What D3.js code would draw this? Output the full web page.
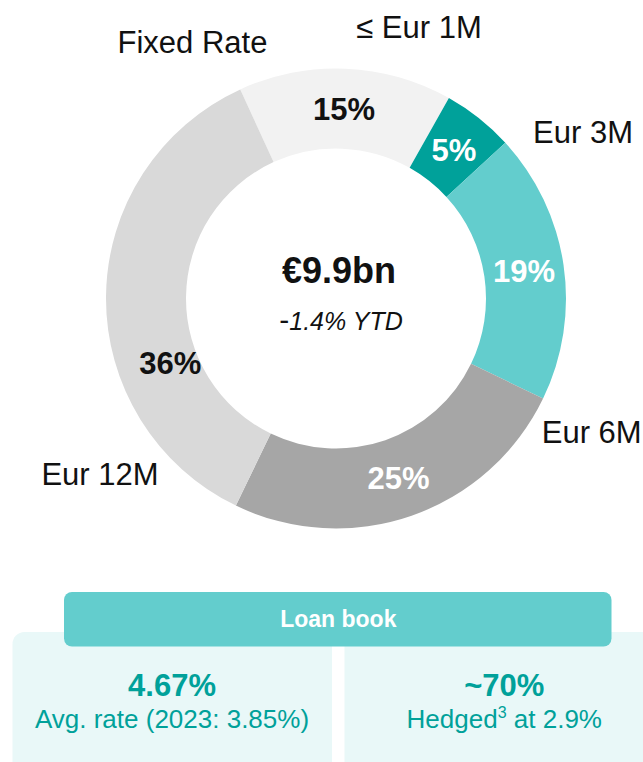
<!DOCTYPE html>
<html>
<head>
<meta charset="utf-8">
<script src="https://cdn.jsdelivr.net/npm/d3@7"></script>
<style>
  html, body { margin: 0; padding: 0; background: #ffffff; }
  svg { display: block; font-family: "Liberation Sans", Arial, sans-serif; }
</style>
</head>
<body>
<svg id="chart" width="643" height="762"></svg>
<script>
// Loan book split by interest-rate reference
const categories = ["Fixed Rate", "≤ Eur 1M", "Eur 3M", "Eur 6M", "Eur 12M"];
const shares = [15, 5, 19, 25, 36];
const totalLabel = "€9.9bn";
const changeSign = "-";
const changeLabel = "1.4% YTD";
const panelHeader = "Loan book";
const panelValues = ["4.67%", "~70%"];
const panelNotes = ["Avg. rate (2023: 3.85%)", "Hedged|3| at 2.9%"];

// Styling
const sliceColors = ["#f2f2f2", "#00a19a", "#63cdcd", "#a6a6a6", "#d9d9d9"];
const valueColors = ["#111111", "#ffffff", "#ffffff", "#ffffff", "#111111"];
const teal = "#00a19a";

const svg = d3.select("#chart");
const cx = 336, cy = 298.5;
const outerR = 230, innerR = 150;
const deg = Math.PI / 180;
const start = -24.6 * deg;

const pie = d3.pie().sort(null).value(d => d.v)
  .startAngle(start).endAngle(start + 2 * Math.PI);
const data = categories.map((c, i) => ({ c, v: shares[i], i }));
const arcs = pie(data);

const arc = d3.arc().innerRadius(innerR).outerRadius(outerR);

const g = svg.append("g").attr("transform", `translate(${cx},${cy})`);

g.selectAll("path.slice")
  .data(arcs)
  .join("path")
  .attr("class", "slice")
  .attr("d", arc)
  .attr("fill", d => sliceColors[d.data.i]);

// Value labels sit on the ring's mid radius; the large left slice is nudged down
const labelShift = { "Eur 12M": { a: -22 * deg, r: 178 } };
g.selectAll("text.value")
  .data(arcs)
  .join("text")
  .attr("class", "value")
  .attr("text-anchor", "middle")
  .attr("font-weight", "bold")
  .attr("font-size", 31)
  .attr("fill", d => valueColors[d.data.i])
  .attr("x", d => {
    const s = labelShift[d.data.c] || { a: 0, r: (innerR + outerR) / 2 };
    const a = (d.startAngle + d.endAngle) / 2 + s.a;
    return s.r * Math.sin(a);
  })
  .attr("y", d => {
    const s = labelShift[d.data.c] || { a: 0, r: (innerR + outerR) / 2 };
    const a = (d.startAngle + d.endAngle) / 2 + s.a;
    return -s.r * Math.cos(a) + 11;
  })
  .text(d => d.data.v + "%");

// Category callouts around the ring (offsets from the ring centre)
const calloutPos = {
  "Fixed Rate": [-143.5, -245.5],
  "≤ Eur 1M": [83, -260.5],
  "Eur 3M": [247, -155.5],
  "Eur 6M": [255.7, 144.2],
  "Eur 12M": [-236, 186.5]
};
g.selectAll("text.callout")
  .data(arcs)
  .join("text")
  .attr("class", "callout")
  .attr("text-anchor", "middle")
  .attr("font-size", 31)
  .attr("fill", "#111111")
  .attr("x", d => calloutPos[d.data.c][0])
  .attr("y", d => calloutPos[d.data.c][1])
  .text(d => d.data.c);

// Centre totals
g.append("text")
  .attr("text-anchor", "middle")
  .attr("x", 3).attr("y", -16)
  .attr("font-weight", "bold")
  .attr("font-size", 36)
  .attr("fill", "#111111")
  .text(totalLabel);
const change = g.append("text")
  .attr("text-anchor", "middle")
  .attr("x", 5).attr("y", 31)
  .attr("font-size", 25)
  .attr("fill", "#111111");
change.append("tspan").attr("font-size", 30).text(changeSign);
change.append("tspan").attr("font-style", "italic").text(changeLabel);

// Loan book panels
const panelX = [12.5, 344.5];
const panelW = 319.5;
const panelG = svg.append("g");
panelX.forEach((x, i) => {
  panelG.append("rect")
    .attr("x", x).attr("y", 632)
    .attr("width", i === 0 ? panelW : 330).attr("height", 160)
    .attr("rx", 12)
    .attr("fill", "#e9f8f8");
});
panelG.append("rect")
  .attr("x", 64).attr("y", 592)
  .attr("width", 547.5).attr("height", 54.5)
  .attr("rx", 8)
  .attr("fill", "#63cdcd");
panelG.append("text")
  .attr("text-anchor", "middle")
  .attr("x", 338.3).attr("y", 626.5)
  .attr("font-weight", "bold")
  .attr("font-size", 23)
  .attr("fill", "#ffffff")
  .text(panelHeader);

const centers = [172, 504.3];
panelValues.forEach((v, i) => {
  panelG.append("text")
    .attr("text-anchor", "middle")
    .attr("x", centers[i]).attr("y", 696)
    .attr("font-weight", "bold")
    .attr("font-size", 31)
    .attr("fill", teal)
    .text(v);
});
panelNotes.forEach((n, i) => {
  const t = panelG.append("text")
    .attr("text-anchor", "middle")
    .attr("x", centers[i]).attr("y", 728.3)
    .attr("font-size", 26)
    .attr("fill", teal);
  n.split("|").forEach((part, j) => {
    if (j % 2 === 1) {
      t.append("tspan").attr("font-size", 16).attr("dy", -10).text(part);
    } else {
      t.append("tspan").attr("dy", j > 0 ? 10 : 0).text(part);
    }
  });
});
</script>
</body>
</html>
